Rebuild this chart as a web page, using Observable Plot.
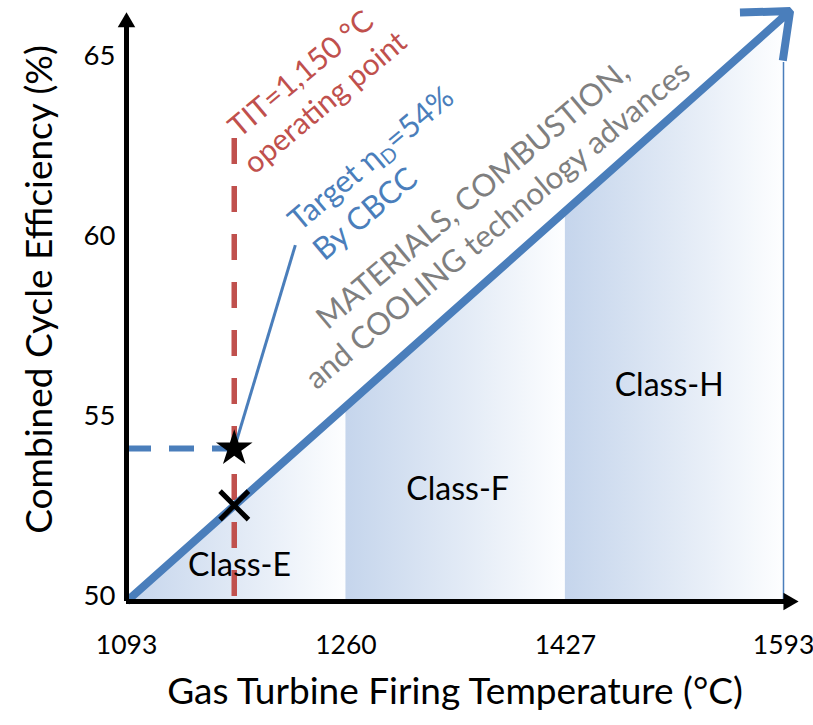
<!DOCTYPE html>
<html><head><meta charset="utf-8">
<script src="https://cdn.jsdelivr.net/npm/d3@7"></script>
<script src="https://cdn.jsdelivr.net/npm/@observablehq/plot@0.6"></script>
<style>
html,body{margin:0;padding:0;background:#fff;}
#chart svg{display:block;}
</style>
</head><body><div id="chart"></div>
<script>
// ---- data ----
const xTicks = [1093, 1260, 1427, 1593];
const yTicks = [50, 55, 60, 65];
const classNames = ["Class-E", "Class-F", "Class-H"];
const classStart = [1093, 1260, 1427];
const classEnd = [1260, 1427, 1593];
const trendTemp = [1093, 1260, 1427, 1593];
const trendEff = [50, 55.4, 60.9, 66.3];
const trendTip = [1598, 66.4];
const classLabelTemp = [1179, 1345, 1506];
const classLabelEff = [51.0, 53.1, 56.0];
const operatingTemp = 1175;
const operatingTop = 62.86;
const targetEff = 54.25;
const crossEff = 52.67;
const leaderStart = [1221.5, 59.9];
const hLineTop = 64.97;
const annoText = ["TIT=1,150 °C\noperating point", "Target ηD=54%\nBy CBCC", "MATERIALS, COMBUSTION,\nand COOLING technology advances"];
const annoTemp = [1234, 1228, 1365];
const annoEff = [64.3, 60.11, 60.92];
const annoColor = ["#c0504d", "#4a7ebb", "#7f7f7f"];
const annoAnchor = ["middle", "start", "middle"];
const annoSize = [30, 31, 31];
const xTitle = "Gas Turbine Firing Temperature (°C)";
const yTitle = "Combined Cycle Efficiency (%)";

const BLUE = "#4a7ebb";
const RED = "#c0504d";

const classAreas = classNames.flatMap((c, i) => [
  {cls: c, t: classStart[i], eff: trendEff[i]},
  {cls: c, t: classEnd[i], eff: trendEff[i + 1]}
]);
const classLabels = classNames.map((c, i) => ({cls: c, t: classLabelTemp[i], eff: classLabelEff[i]}));
const annos = annoText.map((s, i) => ({s, t: annoTemp[i], eff: annoEff[i]}));

function gradientDefs() {
  const ns = "http://www.w3.org/2000/svg";
  const defs = document.createElementNS(ns, "defs");
  const g = document.createElementNS(ns, "linearGradient");
  g.setAttribute("id", "classGrad");
  g.setAttribute("x1", "0"); g.setAttribute("x2", "1");
  g.setAttribute("y1", "0"); g.setAttribute("y2", "0");
  [["0%", "#c5d5ec"], ["55%", "#e3ebf6"], ["100%", "#fdfeff"]].forEach(([o, c]) => {
    const s = document.createElementNS(ns, "stop");
    s.setAttribute("offset", o); s.setAttribute("stop-color", c);
    g.appendChild(s);
  });
  defs.appendChild(g);
  return defs;
}

const annoMarks = annos.map((a, i) => Plot.text([a], {
  x: "t", y: "eff", text: "s", rotate: -40, fill: annoColor[i],
  fontSize: annoSize[i], lineHeight: 1.25, textAnchor: annoAnchor[i]
}));

const svg = Plot.plot({
  width: 813, height: 725,
  marginLeft: 126, marginRight: 30, marginTop: 7, marginBottom: 124,
  style: {fontFamily: "Lato, 'Open Sans', sans-serif", background: "#fff", color: "#000", overflow: "visible"},
  x: {domain: [1093, 1593], label: null},
  y: {domain: [50, 66.5], label: null},
  marks: [
    gradientDefs,
    Plot.areaY(classAreas, {x: "t", y1: 50, y2: "eff", z: "cls", fill: "url(#classGrad)", curve: "linear"}),
    Plot.ruleX([1593], {y1: 50, y2: hLineTop, stroke: BLUE, strokeWidth: 1.5}),
    Plot.ruleX([operatingTemp], {y1: operatingTop, y2: 50, stroke: RED, strokeWidth: 5.5, strokeDasharray: "26,22"}),
    Plot.ruleY([targetEff], {x1: 1093, x2: operatingTemp, stroke: BLUE, strokeWidth: 6, strokeDasharray: "25,18"}),
    Plot.link([{}], {x1: leaderStart[0], y1: leaderStart[1], x2: operatingTemp, y2: targetEff, stroke: BLUE, strokeWidth: 3}),
    Plot.arrow([{}], {x1: trendTemp[0], y1: trendEff[0], x2: trendTip[0], y2: trendTip[1],
      stroke: BLUE, strokeWidth: 8, headLength: 9.4, headAngle: 80, strokeLinejoin: "miter", strokeLinecap: "butt"}),
    Plot.dot([{}], {x: operatingTemp, y: crossEff, symbol: "times", r: 13, stroke: "#000", strokeWidth: 5}),
    Plot.dot([{}], {x: operatingTemp, y: targetEff, symbol: "star", r: 11.5, fill: "#000", stroke: "none"}),
    Plot.ruleY([50], {x1: 1093, x2: 1595, stroke: "#000", strokeWidth: 5}),
    Plot.ruleX([1093], {y1: 50, y2: 66.0, stroke: "#000", strokeWidth: 5}),
    Plot.dot([{}], {x: 1093, y: 66.09, symbol: "triangle", r: 6.5, fill: "#000", stroke: "none"}),
    Plot.dot([{}], {x: 1596.8, y: 50, symbol: "triangle", r: 6.5, rotate: 90, fill: "#000", stroke: "none"}),
    Plot.axisX({ticks: xTicks, tickSize: 0, tickPadding: 34, fontSize: 26.5, tickFormat: d => String(d), label: null}),
    Plot.axisY({ticks: yTicks, tickSize: 0, tickPadding: 11, fontSize: 27.5, dy: -5, label: null}),
    Plot.text(classLabels, {x: "t", y: "eff", text: "cls", fontSize: 32, fill: "#000"}),
    ...annoMarks,
    Plot.text([xTitle], {frameAnchor: "bottom", dy: 102, fontSize: 37, fill: "#000", textAnchor: "middle"}),
    Plot.text([yTitle], {frameAnchor: "left", rotate: -90, dx: -86, dy: -15, fontSize: 37, fill: "#000", textAnchor: "middle"})
  ]
});

// subscript D in the target label
svg.querySelectorAll("tspan, text").forEach(el => {
  if (el.childElementCount === 0 && el.textContent.includes("ηD=54%")) {
    const ns = "http://www.w3.org/2000/svg";
    el.textContent = "";
    const a = document.createElementNS(ns, "tspan"); a.textContent = "Target η";
    const b = document.createElementNS(ns, "tspan"); b.textContent = "D";
    b.setAttribute("font-size", "20"); b.setAttribute("dy", "6");
    const c = document.createElementNS(ns, "tspan"); c.textContent = "=54%"; c.setAttribute("dy", "-6");
    el.append(a, b, c);
  }
});

document.getElementById("chart").appendChild(svg);
</script>
</body></html>
